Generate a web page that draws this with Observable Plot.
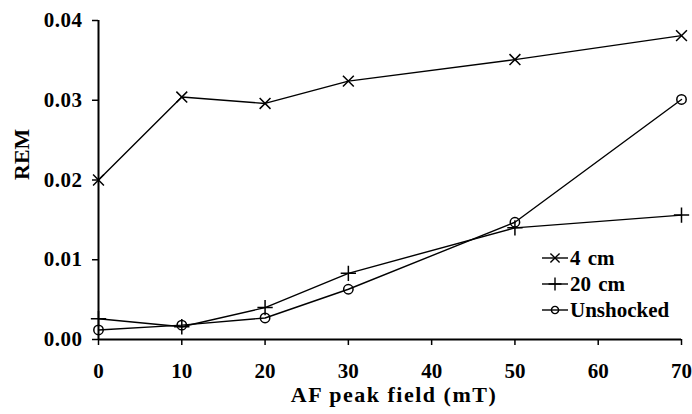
<!DOCTYPE html>
<html>
<head>
<meta charset="utf-8">
<script src="https://cdn.jsdelivr.net/npm/d3@7"></script>
<script src="https://cdn.jsdelivr.net/npm/@observablehq/plot@0.6"></script>
<style>
  html, body { margin: 0; padding: 0; background: #fff; }
  #wrap { position: relative; width: 692px; height: 414px; font-family: "Liberation Serif", "Times New Roman", serif; font-weight: bold; }
  #legend { position: absolute; left: 542px; top: 245px; font-size: 21px; color: #000; }
  #legend div { display: flex; align-items: center; height: 26px; }
  #legend svg { margin-right: 2px; }
  #legend span { word-spacing: 2px; }
</style>
</head>
<body>
<div id="wrap"></div>
<script>
const fields = [0, 10, 20, 30, 50, 70];
const cm4 = [0.0200, 0.0304, 0.0296, 0.0324, 0.0351, 0.0381];
const cm20 = [0.0026, 0.0016, 0.0040, 0.0083, 0.0140, 0.0156];
const unshocked = [0.0012, 0.0018, 0.0027, 0.0063, 0.0147, 0.0301];
const seriesNames = ["4 cm", "20 cm", "Unshocked"];
const seriesSymbols = ["times", "plus", "circle"];
const yTicks = [0, 0.01, 0.02, 0.03, 0.04];
const xTicks = [0, 10, 20, 30, 40, 50, 60, 70];

const allSeries = [cm4, cm20, unshocked];
const data = [];
allSeries.forEach((vals, s) => fields.forEach((f, i) => data.push({series: seriesNames[s], sym: seriesSymbols[s], x: f, y: vals[i]})));

const font = '"Liberation Serif", "Times New Roman", serif';
const chart = Plot.plot({
  width: 692,
  height: 414,
  marginLeft: 98,
  marginRight: 11,
  marginTop: 20,
  marginBottom: 75,
  style: {fontFamily: font, fontWeight: "bold", fontSize: "21px", color: "#000", background: "#fff"},
  x: {domain: [0, 70]},
  y: {domain: [0, 0.04]},
  marks: [
    Plot.ruleX([0], {stroke: "#000", strokeWidth: 2}),
    Plot.ruleY([0], {stroke: "#000", strokeWidth: 2}),
    Plot.axisX({ticks: xTicks, tickSize: 6, tickPadding: 18, tickFormat: d3.format("d"), strokeWidth: 1.5, label: null, fontSize: 21}),
    Plot.axisY({ticks: yTicks, tickSize: 6, tickPadding: 10, tickFormat: d3.format(".2f"), strokeWidth: 1.5, label: null, fontSize: 21}),
    Plot.line(data, {x: "x", y: "y", z: "series", stroke: "#000", strokeWidth: 1.4}),
    Plot.dot(data.filter(d => d.sym !== "circle"), {x: "x", y: "y", symbol: "sym", r: 5, stroke: "#000", strokeWidth: 1.5, fill: "none"}),
    Plot.dot(data.filter(d => d.sym === "circle"), {x: "x", y: "y", symbol: "sym", r: 4.7, stroke: "#000", strokeWidth: 1.5, fill: "none"}),
    Plot.text(["AF peak field (mT)"], {frameAnchor: "bottom", dy: 62, fontSize: 22, fontWeight: "bold"}),
    Plot.text(["REM"], {frameAnchor: "left", dx: -77, rotate: -90, fontSize: 22, fontWeight: "bold"})
  ],
  symbol: {type: "identity"}
});
d3.select(chart).selectAll("text").filter(function() { return this.textContent === "AF peak field (mT)"; }).attr("letter-spacing", "1.5px").attr("dx", 4);
d3.select(chart).selectAll("g[aria-label='y-axis tick label'] text").attr("letter-spacing", "0.5px");
document.getElementById("wrap").appendChild(chart);

// legend
const legend = document.createElement("div");
legend.id = "legend";
seriesNames.forEach((name, i) => {
  const row = document.createElement("div");
  const sym = seriesSymbols[i];
  const size = sym === "circle" ? Math.PI * 13 : Math.PI * 18;
  const path = d3.symbol(sym === "times" ? d3.symbolTimes : sym === "plus" ? d3.symbolPlus : d3.symbolCircle, size)();
  row.innerHTML = `<svg width="26" height="16" viewBox="-13 -8 26 16"><line x1="-13" x2="13" y1="0" y2="0" stroke="#000" stroke-width="1.4"/><path d="${path}" fill="none" stroke="#000" stroke-width="1.4"/></svg><span>${name}</span>`;
  legend.appendChild(row);
});
document.getElementById("wrap").appendChild(legend);
</script>
</body>
</html>
